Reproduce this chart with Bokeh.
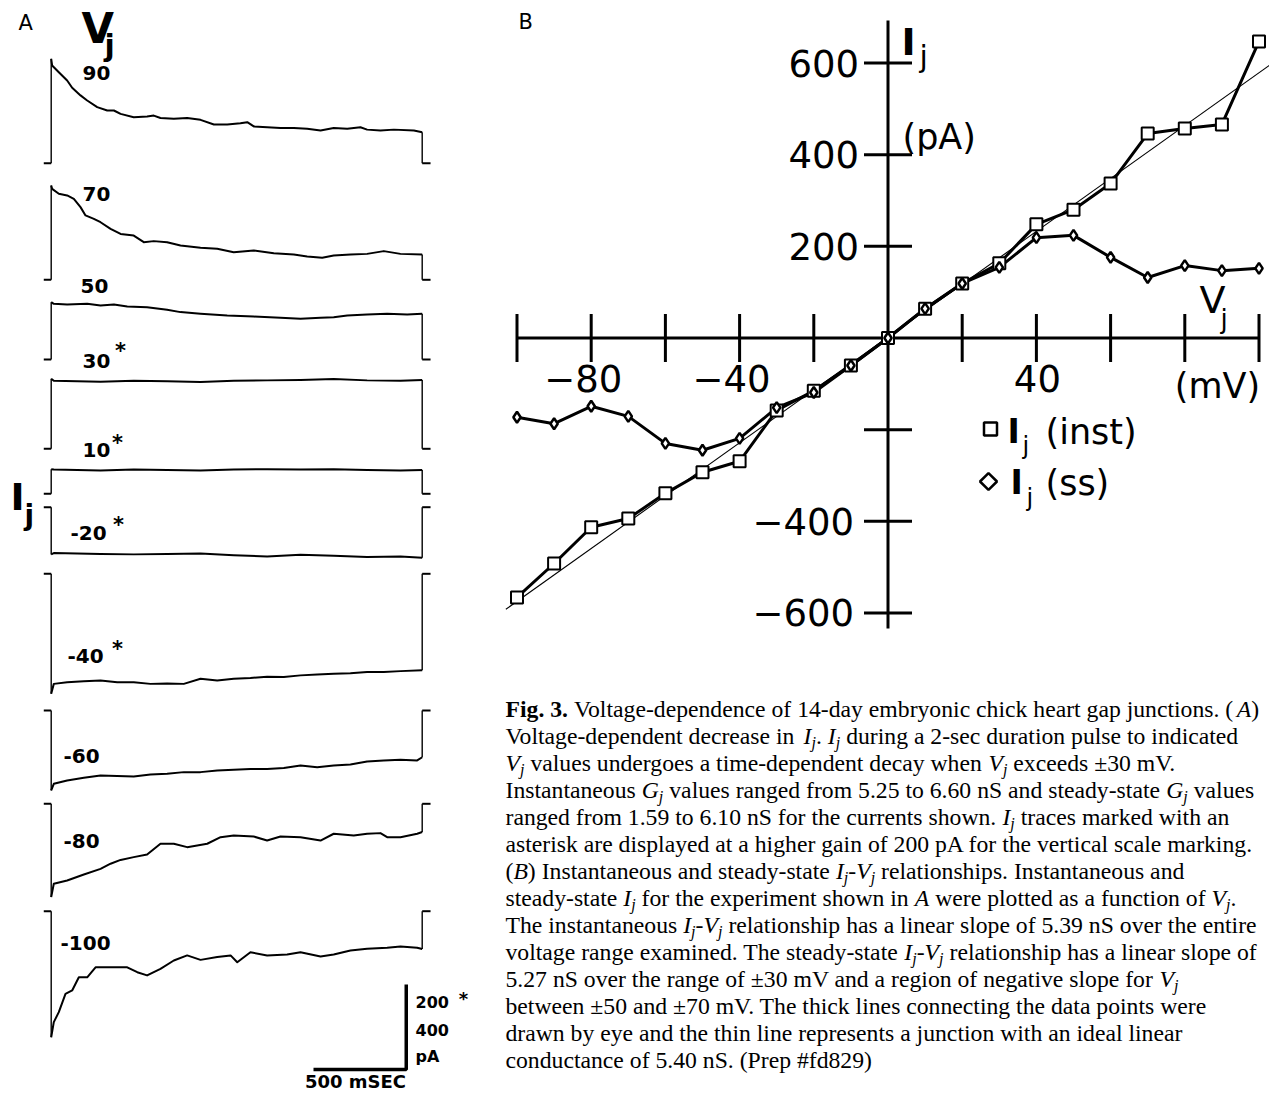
from bokeh.plotting import figure
from bokeh.models import Range1d
from bokeh.core.properties import value
from bokeh.embed import file_html
from bokeh.resources import INLINE

# ---------------- data: panel B (I-V relationship) ----------------
vj_mv = [-100, -90, -80, -70, -60, -50, -40, -30, -20, -10, 0,
         10, 20, 30, 40, 50, 60, 70, 80, 90, 100]
ij_inst_pa = [-566, -492, -413, -394, -339, -293, -269, -158, -115, -60, 0,
              64, 119, 163, 248, 280, 337, 446, 457, 466, 647]
ij_ss_pa = [-173, -187, -149, -171, -230, -245, -219, -152, -119, -60, 0,
            64, 119, 154, 219, 224, 176, 132, 158, 147, 152]
ideal_v = [-103, 103]
ideal_i = [-592, 596]
x_ticks_mv = [-100, -80, -60, -40, -20, 20, 40, 60, 80, 100]
x_tick_labels = {-80: "−80", -40: "−40", 40: "40"}
y_ticks_pa = [600, 400, 200, -200, -400, -600]
y_tick_labels = {600: "600", 400: "400", 200: "200", -400: "−400", -600: "−600"}

# ---------------- data: panel A (current traces, time in ms, current in pA) ----------------
trace_labels = ["90", "70", "50", "30", "10", "-20", "-40", "-60", "-80", "-100"]
trace_starred = [False, False, False, True, True, True, True, False, False, False]

t_90 = [0, 5, 41, 86, 113, 158, 194, 248, 302, 338, 374, 445, 517, 553, 589, 661, 733, 805, 877, 949,
        1020, 1057, 1092, 1164, 1236, 1308, 1380, 1452, 1523, 1596, 1667, 1703, 1775, 1847, 1955, 2000]
i_90 = [491, 460, 428, 389, 355, 319, 295, 264, 248, 248, 232, 216, 220, 224, 213, 209, 213, 204, 182, 182,
        188, 193, 173, 169, 166, 166, 162, 154, 166, 162, 169, 158, 154, 158, 154, 146]
t_70 = [0, 5, 41, 86, 122, 158, 185, 230, 266, 320, 374, 445, 499, 553, 625, 697, 805, 895, 984, 1092,
        1200, 1308, 1380, 1461, 1523, 1614, 1703, 1793, 1883, 2000]
i_70 = [444, 428, 405, 397, 381, 342, 303, 287, 271, 240, 216, 208, 177, 182, 177, 161, 151, 146, 130, 138,
        125, 119, 110, 104, 114, 119, 122, 135, 122, 119]
t_50 = [0, 14, 86, 194, 266, 338, 410, 517, 625, 697, 805, 949, 1092, 1236, 1344, 1452, 1523, 1596, 1703,
        1811, 1919, 2000]
i_50 = [270, 262, 259, 262, 254, 259, 249, 246, 234, 223, 215, 207, 202, 196, 192, 196, 199, 207, 212,
        215, 212, 215]
t_30 = [0, 14, 266, 445, 625, 805, 984, 1164, 1344, 1523, 1703, 1883, 2000]
i_30 = [165, 160, 158, 160, 159, 157, 160, 161, 162, 164, 161, 160, 162]
t_10 = [0, 14, 266, 445, 625, 805, 984, 1164, 1344, 1523, 1703, 1883, 2000]
i_10 = [58, 57, 55, 57, 56, 55, 57, 58, 57, 58, 56, 55, 56]
t_m20 = [0, 14, 266, 445, 625, 805, 984, 1164, 1344, 1523, 1703, 1883, 2000]
i_m20 = [-111, -108, -110, -111, -110, -109, -113, -116, -112, -114, -117, -116, -119]
t_m40 = [0, 14, 86, 176, 266, 356, 445, 535, 625, 715, 805, 895, 984, 1074, 1164, 1254, 1344, 1434,
         1523, 1613, 1703, 1793, 1883, 2000]
i_m40 = [-282, -259, -255, -253, -251, -255, -255, -259, -258, -259, -247, -251, -247, -245, -242, -243,
         -239, -237, -235, -234, -231, -231, -229, -227]
t_m60 = [0, 14, 86, 176, 266, 445, 535, 625, 715, 805, 895, 984, 1074, 1164, 1254, 1344, 1434, 1523,
         1613, 1703, 1793, 1883, 1973, 2000]
i_m60 = [-376, -345, -329, -317, -306, -311, -301, -298, -290, -290, -282, -279, -275, -275, -271, -259,
         -267, -259, -254, -240, -235, -232, -235, -220]
t_m80 = [0, 14, 86, 176, 266, 320, 374, 445, 517, 589, 661, 733, 841, 913, 984, 1092, 1164, 1236, 1344,
         1452, 1523, 1631, 1703, 1775, 1811, 1883, 1973, 2000]
i_m80 = [-439, -376, -361, -333, -306, -282, -264, -251, -239, -188, -188, -204, -188, -157, -149, -154,
         -173, -154, -157, -173, -141, -149, -141, -138, -157, -157, -141, -133]
t_m100 = [0, 14, 41, 77, 113, 149, 194, 239, 284, 410, 464, 517, 589, 661, 733, 805, 895, 967, 1003,
          1074, 1164, 1272, 1344, 1452, 1523, 1613, 1703, 1811, 1883, 1973, 2000]
i_m100 = [-593, -522, -475, -389, -373, -311, -311, -264, -264, -264, -287, -302, -271, -232, -208, -229,
          -216, -208, -240, -193, -208, -204, -193, -213, -204, -185, -177, -172, -166, -172, -178]

trace_times = [t_90, t_70, t_50, t_30, t_10, t_m20, t_m40, t_m60, t_m80, t_m100]
trace_currents = [i_90, i_70, i_50, i_30, i_10, i_m20, i_m40, i_m60, i_m80, i_m100]

scale_ms = 500
scale_pa = 400
scale_pa_star = 200

# ---------------- layout (pixels) ----------------
W, H = 1269, 1095
B_X0, B_SX = 887.5, 3.71      # px of 0 mV, px per mV
B_Y0, B_SY = 337.5, 0.4583    # px of 0 pA, px per pA
A_X0, A_SX = 50.7, 0.1855     # px of pulse onset, px per ms
A_GAIN, A_GAIN_STAR = 0.2125, 0.425   # px per pA
trace_base_px = [162.7, 279.3, 359, 448.3, 493.3, 506.7, 573.3, 710, 803.3, 910.7]
trace_label_px = [(82, 72), (82, 193), (80, 285), (82, 360), (82, 449), (70, 532), (67, 655),
                  (63, 755), (63, 840), (60, 942)]
star_px = {3: (120, 345), 4: (117, 437), 5: (118, 519), 6: (117, 643)}
SB_BASE, SB_X_PX = 1069, 313
MID_SANS, MID_SERIF = 0.346, 0.3375   # em-box middle above baseline

p = figure(width=W, height=H,
           x_range=Range1d(-B_X0 / B_SX, (W - B_X0) / B_SX),
           y_range=Range1d(-(H - B_Y0) / B_SY, B_Y0 / B_SY),
           output_backend="svg", toolbar_location=None, min_border=0,
           x_axis_location=None, y_axis_location=None, outline_line_color=None,
           background_fill_color="white", border_fill_color="white")
p.grid.visible = False

xr = {"ms": Range1d(-A_X0 / A_SX, (W - A_X0) / A_SX), "px": Range1d(0, W)}
yr = {"py": Range1d(H, 0), "sb": Range1d(-(H - SB_BASE) / A_GAIN, SB_BASE / A_GAIN)}
for k, b in enumerate(trace_base_px):
    g = A_GAIN_STAR if trace_starred[k] else A_GAIN
    yr[f"tr{k}"] = Range1d(-(H - b) / g, b / g)
p.extra_x_ranges = xr
p.extra_y_ranges = yr

BLACK = "black"


def txt(x, y, s, size, font="DejaVu Sans", style="normal", align="left"):
    """text whose em-box middle sits at pixel y"""
    p.text(x=[x], y=[y], text=[s], text_font=value(font), text_font_size=f"{size}px",
           text_font_style=style, text_align=align, text_baseline="middle",
           text_color=BLACK, x_range_name="px", y_range_name="py")


def txtb(x, base, s, size, style="normal", align="left"):
    """text whose baseline sits at pixel base"""
    txt(x, base - MID_SANS * size, s, size, style=style, align=align)


def star(cx, cy, size):
    txt(cx, cy + 0.245 * size, "*", size, style="bold", align="center")


# ---------------- panel A ----------------
for k in range(len(trace_labels)):
    t, cur = trace_times[k], trace_currents[k]
    yn = f"tr{k}"
    p.line([t[0] - 40, t[0]], [0, 0], line_width=2, color=BLACK, x_range_name="ms", y_range_name=yn)
    p.line([t[-1], t[-1] + 45], [0, 0], line_width=2, color=BLACK, x_range_name="ms", y_range_name=yn)
    p.segment(x0=[t[0], t[-1]], y0=[0, cur[-1]], x1=[t[0], t[-1]], y1=[cur[0], 0],
              line_width=1.4, color=BLACK, x_range_name="ms", y_range_name=yn)
    p.line(t, cur, line_width=2, color=BLACK, line_join="round", x_range_name="ms", y_range_name=yn)
    lx, ly = trace_label_px[k]
    txt(lx, ly, trace_labels[k], 20, style="bold")
    if k in star_px:
        star(*star_px[k], 21)

# scale bar
sb_t0 = (SB_X_PX - A_X0) / A_SX
p.line([sb_t0, sb_t0 + scale_ms, sb_t0 + scale_ms], [0, 0, scale_pa], line_width=3.5,
       color=BLACK, x_range_name="ms", y_range_name="sb")
txtb(415, 1007, str(scale_pa_star), 16, style="bold")
star(463, 994, 18)
txtb(415, 1035, str(scale_pa), 16, style="bold")
txtb(415, 1062, "pA", 16, style="bold")
txtb(355, 1087, f"{scale_ms} mSEC", 18, style="bold", align="center")

txt(18, 22, "A", 21)
txtb(81, 43, "V", 42, style="bold")
txtb(104, 55, "j", 30, style="bold")
txtb(10, 510, "I", 38, style="bold")
txtb(24, 525, "j", 28, style="bold")

# ---------------- panel B ----------------
txt(518, 21, "B", 21)
p.line(ideal_v, ideal_i, line_width=1.1, color=BLACK)
p.line([x_ticks_mv[0], x_ticks_mv[-1]], [0, 0], line_width=3, color=BLACK)
p.line([0, 0], [-634, 693], line_width=3, color=BLACK)
p.scatter(x_ticks_mv, [0] * len(x_ticks_mv), marker="dash", angle=1.5708, size=48,
          line_color=BLACK, line_width=3)
p.scatter([0] * len(y_ticks_pa), y_ticks_pa, marker="dash", size=48, line_color=BLACK, line_width=3)
for v, s in x_tick_labels.items():
    p.text(x=[v], y=[0], text=[s], text_font=value("DejaVu Sans"), text_font_size="37px",
           text_align="center", text_baseline="middle", y_offset=40,
           x_offset=-8 if v < 0 else 1, text_color=BLACK)
for v, s in y_tick_labels.items():
    p.text(x=[0], y=[v], text=[s], text_font=value("DejaVu Sans"), text_font_size="37px",
           text_align="right", text_baseline="middle", x_offset=-29 if v > 0 else -34,
           text_color=BLACK)

p.line(vj_mv, ij_inst_pa, line_width=3, color=BLACK)
p.line(vj_mv, ij_ss_pa, line_width=3, color=BLACK, line_join="round")
p.scatter(vj_mv, ij_inst_pa, marker="square", size=12, fill_color="white",
          line_color=BLACK, line_width=2)
p.scatter(vj_mv, ij_ss_pa, marker="diamond", size=11, fill_color="white",
          line_color=BLACK, line_width=2.5)

txtb(901, 55, "I", 38, style="bold")
txtb(919, 66, "j", 30)
txt(902, 136, "(pA)", 35)
txtb(1199, 313, "V", 38)
txtb(1220, 327, "j", 26)
txt(1217, 385, "(mV)", 35, align="center")

# legend
p.scatter([990], [428.5], marker="square", size=13, fill_color="white", line_color=BLACK,
          line_width=2.5, x_range_name="px", y_range_name="py")
p.scatter([988], [481], marker="square", angle=0.7854, size=12, fill_color="white",
          line_color=BLACK, line_width=2.5, x_range_name="px", y_range_name="py")
txtb(1007, 442, "I", 33, style="bold")
txtb(1022, 454, "j", 24)
txt(1045, 431, "(inst)", 35)
txtb(1010, 493, "I", 33, style="bold")
txtb(1026, 506, "j", 24)
txt(1045, 482, "(ss)", 35)

# ---------------- caption ----------------
Ij = [("I", "i"), ("j", "s")]
Vj = [("V", "i"), ("j", "s")]
Gj = [("G", "i"), ("j", "s")]
caption_lines = [
    [("Fig. 3.", "b"), (" Voltage-dependence of 14-day embryonic chick heart gap junctions. (", "n"),
     ("A", "i"), (")", "n")],
    [("Voltage-dependent decrease in ", "n")] + Ij + [(". ", "n")] + Ij +
    [(" during a 2-sec duration pulse to indicated", "n")],
    Vj + [(" values undergoes a time-dependent decay when ", "n")] + Vj + [(" exceeds ±30 mV.", "n")],
    [("Instantaneous ", "n")] + Gj + [(" values ranged from 5.25 to 6.60 nS and steady-state ", "n")] +
    Gj + [(" values", "n")],
    [("ranged from 1.59 to 6.10 nS for the currents shown. ", "n")] + Ij +
    [(" traces marked with an", "n")],
    [("asterisk are displayed at a higher gain of 200 pA for the vertical scale marking.", "n")],
    [("(", "n"), ("B", "i"), (") Instantaneous and steady-state ", "n")] + Ij + [("-", "n")] + Vj +
    [(" relationships. Instantaneous and", "n")],
    [("steady-state ", "n")] + Ij + [(" for the experiment shown in ", "n"), ("A", "i"),
                                     (" were plotted as a function of ", "n")] + Vj + [(".", "n")],
    [("The instantaneous ", "n")] + Ij + [("-", "n")] + Vj +
    [(" relationship has a linear slope of 5.39 nS over the entire", "n")],
    [("voltage range examined. The steady-state ", "n")] + Ij + [("-", "n")] + Vj +
    [(" relationship has a linear slope of", "n")],
    [("5.27 nS over the range of ±30 mV and a region of negative slope for ", "n")] + Vj,
    [("between ±50 and ±70 mV. The thick lines connecting the data points were", "n")],
    [("drawn by eye and the thin line represents a junction with an ideal linear", "n")],
    [("conductance of 5.40 nS. (Prep #fd829)", "n")],
]

REG = {' ': 250, '#': 500, '(': 333, ')': 333, ',': 250, '-': 333, '.': 250, ':': 278, '±': 549,
       'A': 722, 'B': 667, 'C': 667, 'D': 722, 'E': 611, 'F': 556, 'G': 722, 'H': 722, 'I': 333,
       'J': 389, 'K': 722, 'L': 611, 'M': 889, 'N': 722, 'O': 722, 'P': 556, 'Q': 722, 'R': 667,
       'S': 556, 'T': 611, 'U': 722, 'V': 722, 'W': 944, 'X': 722, 'Y': 722, 'Z': 611,
       'a': 444, 'b': 500, 'c': 444, 'd': 500, 'e': 444, 'f': 333, 'g': 500, 'h': 500, 'i': 278,
       'j': 278, 'k': 500, 'l': 278, 'm': 778, 'n': 500, 'o': 500, 'p': 500, 'q': 500, 'r': 333,
       's': 389, 't': 278, 'u': 500, 'v': 500, 'w': 722, 'x': 500, 'y': 500, 'z': 444}
for d in "0123456789":
    REG[d] = 500
ITA = {'A': 611, 'B': 611, 'G': 722, 'I': 333, 'V': 611, 'j': 278}
BOLD = {'F': 611, 'i': 278, 'g': 500, '.': 250, ' ': 250, '3': 500}


def cw(ch, st):
    if st in ("i", "s"):
        return ITA.get(ch, REG.get(ch, 500))
    if st == "b":
        return BOLD.get(ch, REG.get(ch, 500))
    return REG.get(ch, 500)


CAP_X0, CAP_Y0, CAP_DY, CAP_FS = 505, 716.5, 27.0, 23.7
groups = {}
for k, line in enumerate(caption_lines):
    x = CAP_X0
    yb = CAP_Y0 + k * CAP_DY
    for text, st in line:
        fs = CAP_FS * 0.68 if st == "s" else CAP_FS
        lead = len(text) - len(text.lstrip(" "))
        x += lead * 250 * fs / 1000
        core = text.strip(" ")
        if core:
            style = {"n": "normal", "i": "italic", "s": "italic", "b": "bold"}[st]
            g = groups.setdefault(style, {"x": [], "y": [], "text": [], "fs": []})
            base = yb + (4 if st == "s" else 0)
            g["x"].append(x)
            g["y"].append(base - MID_SERIF * fs)
            g["text"].append(core)
            g["fs"].append(f"{fs:.1f}px")
            x += sum(cw(c, st) for c in core) * fs / 1000
        trail = len(text) - len(text.rstrip(" "))
        x += trail * 250 * fs / 1000

for style, g in groups.items():
    p.text(x="x", y="y", text="text", source=g, text_font=value("Liberation Serif"),
           text_font_size="fs", text_font_style=style, text_align="left",
           text_baseline="middle", text_color=BLACK, x_range_name="px", y_range_name="py")

open("out.html", "w").write(file_html(p, INLINE))
